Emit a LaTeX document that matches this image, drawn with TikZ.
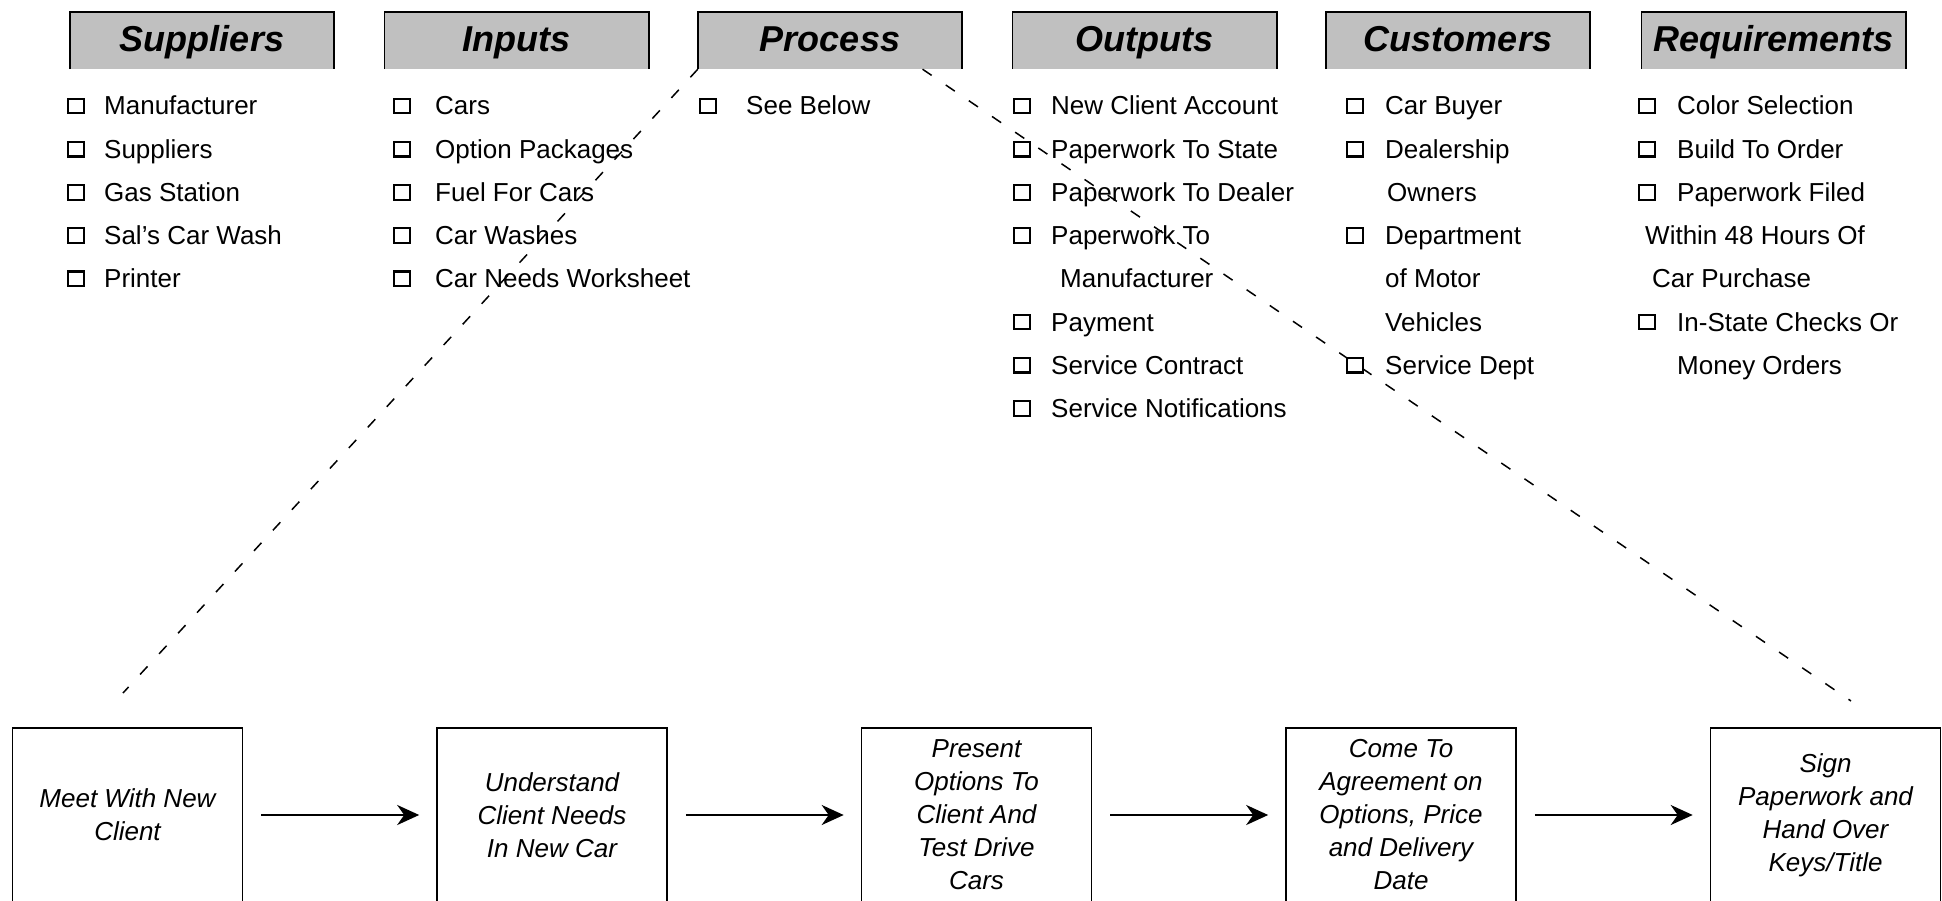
\documentclass[tikz,border=0pt]{standalone}
\usepackage{fontspec}
\setmainfont{Liberation Sans}
\usepackage{tikz}
\usetikzlibrary{arrows.meta}
\usetikzlibrary{calc}
\definecolor{headgray}{HTML}{C0C0C0}
\newcommand{\SipocRowSep}{43.2}
\newcommand{\SipocHead}[3]{
  \node[headbox] (#1) at (#2,40.5) {#3};
  \draw[headline] (#1.south west) |- (#1.north east) -- (#1.south east);
}
\newcommand{\SipocItem}[5]{
  \node[itembox] (#1b) at (#2,{106+\SipocRowSep*#4}) {};
  \node[itemtext] (#1) at (#3,{115+\SipocRowSep*#4}) {#5};
}
\newcommand{\SipocMore}[4]{
  \node[itemtext] (#1) at (#2,{115+\SipocRowSep*#3}) {#4};
}
\tikzset{
  headbox/.style={fill=headgray, minimum width=264pt, minimum height=57pt, inner sep=0pt,
    text height=28pt, text depth=5pt, font=\bfseries\itshape\fontsize{36}{40}\selectfont},
  headline/.style={line width=1.6pt},
  itembox/.style={draw, line width=2.2pt, minimum width=15.5pt, minimum height=14.5pt, inner sep=0pt},
  itemtext/.style={anchor=base west, inner sep=0pt, font=\fontsize{26}{30}\selectfont},
  stepbox/.style={draw, line width=1.6pt, minimum width=230pt, minimum height=174pt, inner sep=0pt,
    align=center, font=\itshape\fontsize{26}{33}\selectfont},
  steparrow/.style={-{Stealth[length=22pt,width=20pt,inset=7pt]}, line width=2.7pt,
    shorten <=18pt, shorten >=17pt},
  zoomline/.style={line width=1.5pt, dash pattern=on 11pt off 17pt}
}
\begin{document}
\begin{tikzpicture}[x=1pt,y=-1pt]
\useasboundingbox (0,0) rectangle (1942,901);

\SipocHead{hSup}{202}{Suppliers}
\SipocHead{hIn}{516.5}{Inputs}
\SipocHead{hProc}{830}{Process}
\SipocHead{hOut}{1144.5}{Outputs}
\SipocHead{hCust}{1458}{Customers}
\SipocHead{hReq}{1773.5}{Requirements}

\SipocItem{sup1}{76}{104}{0}{Manufacturer}
\SipocItem{sup2}{76}{104}{1}{Suppliers}
\SipocItem{sup3}{76}{104}{2}{Gas Station}
\SipocItem{sup4}{76}{104}{3}{Sal's Car Wash}
\SipocItem{sup5}{76}{104}{4}{Printer}

\SipocItem{in1}{402}{435}{0}{Cars}
\SipocItem{in2}{402}{435}{1}{Option Packages}
\SipocItem{in3}{402}{435}{2}{Fuel For Cars}
\SipocItem{in4}{402}{435}{3}{Car Washes}
\SipocItem{in5}{402}{435}{4}{Car Needs Worksheet}

\SipocItem{proc1}{708}{746}{0}{See Below}

\SipocItem{out1}{1022}{1051}{0}{New Client Account}
\SipocItem{out2}{1022}{1051}{1}{Paperwork To State}
\SipocItem{out3}{1022}{1051}{2}{Paperwork To Dealer}
\SipocItem{out4}{1022}{1051}{3}{Paperwork To}
\SipocMore{out4a}{1060}{4}{Manufacturer}
\SipocItem{out5}{1022}{1051}{5}{Payment}
\SipocItem{out6}{1022}{1051}{6}{Service Contract}
\SipocItem{out7}{1022}{1051}{7}{Service Notifications}

\SipocItem{cust1}{1355}{1385}{0}{Car Buyer}
\SipocItem{cust2}{1355}{1385}{1}{Dealership}
\SipocMore{cust2a}{1387}{2}{Owners}
\SipocItem{cust3}{1355}{1385}{3}{Department}
\SipocMore{cust3a}{1385}{4}{of Motor}
\SipocMore{cust3b}{1385}{5}{Vehicles}
\SipocItem{cust4}{1355}{1385}{6}{Service Dept}

\SipocItem{req1}{1647}{1677}{0}{Color Selection}
\SipocItem{req2}{1647}{1677}{1}{Build To Order}
\SipocItem{req3}{1647}{1677}{2}{Paperwork Filed}
\SipocMore{req3a}{1645}{3}{Within 48 Hours Of}
\SipocMore{req3b}{1652}{4}{Car Purchase}
\SipocItem{req4}{1647}{1677}{5}{In-State Checks Or}
\SipocMore{req4a}{1677}{6}{Money Orders}

\node[stepbox] (s1) at (127.5,815) {Meet With New\\Client};
\node[stepbox] (s2) at (552,815) {Understand\\Client Needs\\In New Car};
\node[stepbox] (s3) at (976.5,815) {Present\\Options To\\Client And\\Test Drive\\Cars};
\node[stepbox] (s4) at (1401,815) {Come To\\Agreement on\\Options, Price\\and Delivery\\Date};
\node[stepbox] (s5) at (1825.5,815) {Sign\\Paperwork and\\Hand Over\\Keys/Title};

\draw[steparrow] (s1.east) -- (s2.west);
\draw[steparrow] (s2.east) -- (s3.west);
\draw[steparrow] (s3.east) -- (s4.west);
\draw[steparrow] (s4.east) -- (s5.west);

\coordinate (zoomL) at (123,693);
\coordinate (zoomR) at (1851,701);
\draw[zoomline] (hProc.south west) -- (zoomL);
\draw[zoomline] ($(hProc.south west)!0.85!(hProc.south east)$) -- (zoomR);
\end{tikzpicture}
\end{document}
